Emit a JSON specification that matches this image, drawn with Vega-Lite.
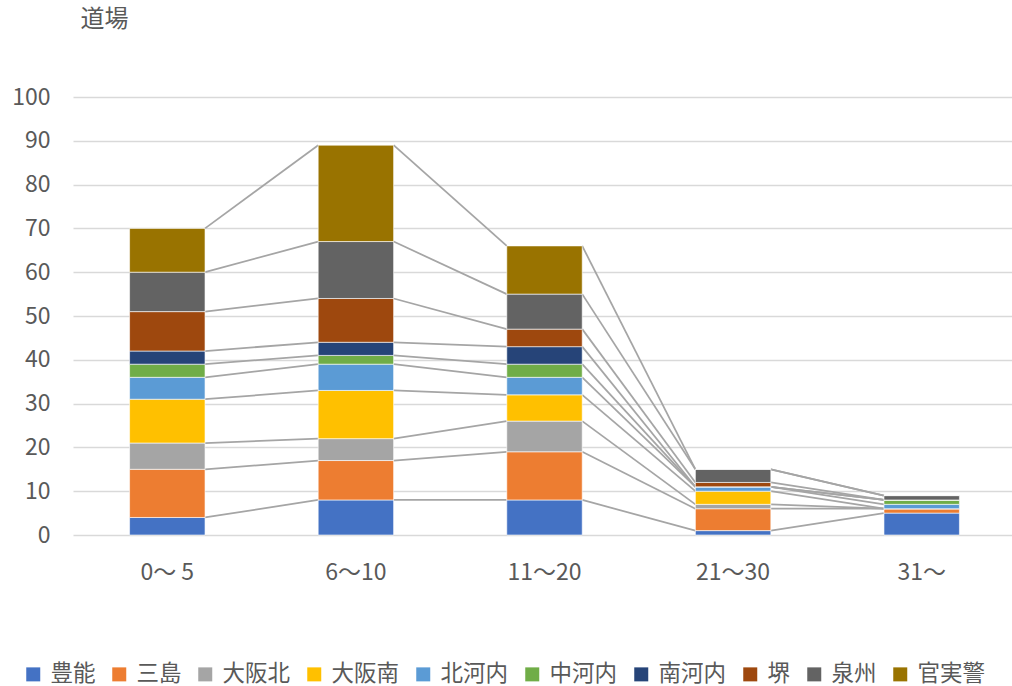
{
  "$schema": "https://vega.github.io/schema/vega-lite/v6.json",
  "width": 943,
  "height": 438,
  "autosize": {"type": "none"},
  "padding": {"left": 73, "top": 97, "right": 0, "bottom": 151},
  "background": "#ffffff",
  "config": {
    "font": "Noto Sans CJK JP",
    "view": {"stroke": null},
    "axis": {"labelColor": "#595959", "titleColor": "#595959", "labelFont": "Noto Sans CJK JP", "titleFont": "Noto Sans CJK JP"},
    "legend": {"labelColor": "#595959", "labelFont": "Noto Sans CJK JP"}
  },
  "data": {
    "values": [
      {"cat": "0～ 5", "series": "豊能", "count": 4},
      {"cat": "0～ 5", "series": "三島", "count": 11},
      {"cat": "0～ 5", "series": "大阪北", "count": 6},
      {"cat": "0～ 5", "series": "大阪南", "count": 10},
      {"cat": "0～ 5", "series": "北河内", "count": 5},
      {"cat": "0～ 5", "series": "中河内", "count": 3},
      {"cat": "0～ 5", "series": "南河内", "count": 3},
      {"cat": "0～ 5", "series": "堺", "count": 9},
      {"cat": "0～ 5", "series": "泉州", "count": 9},
      {"cat": "0～ 5", "series": "官実警", "count": 10},
      {"cat": "6～10", "series": "豊能", "count": 8},
      {"cat": "6～10", "series": "三島", "count": 9},
      {"cat": "6～10", "series": "大阪北", "count": 5},
      {"cat": "6～10", "series": "大阪南", "count": 11},
      {"cat": "6～10", "series": "北河内", "count": 6},
      {"cat": "6～10", "series": "中河内", "count": 2},
      {"cat": "6～10", "series": "南河内", "count": 3},
      {"cat": "6～10", "series": "堺", "count": 10},
      {"cat": "6～10", "series": "泉州", "count": 13},
      {"cat": "6～10", "series": "官実警", "count": 22},
      {"cat": "11～20", "series": "豊能", "count": 8},
      {"cat": "11～20", "series": "三島", "count": 11},
      {"cat": "11～20", "series": "大阪北", "count": 7},
      {"cat": "11～20", "series": "大阪南", "count": 6},
      {"cat": "11～20", "series": "北河内", "count": 4},
      {"cat": "11～20", "series": "中河内", "count": 3},
      {"cat": "11～20", "series": "南河内", "count": 4},
      {"cat": "11～20", "series": "堺", "count": 4},
      {"cat": "11～20", "series": "泉州", "count": 8},
      {"cat": "11～20", "series": "官実警", "count": 11},
      {"cat": "21～30", "series": "豊能", "count": 1},
      {"cat": "21～30", "series": "三島", "count": 5},
      {"cat": "21～30", "series": "大阪北", "count": 1},
      {"cat": "21～30", "series": "大阪南", "count": 3},
      {"cat": "21～30", "series": "北河内", "count": 1},
      {"cat": "21～30", "series": "中河内", "count": 0},
      {"cat": "21～30", "series": "南河内", "count": 0},
      {"cat": "21～30", "series": "堺", "count": 1},
      {"cat": "21～30", "series": "泉州", "count": 3},
      {"cat": "21～30", "series": "官実警", "count": 0},
      {"cat": "31～", "series": "豊能", "count": 5},
      {"cat": "31～", "series": "三島", "count": 1},
      {"cat": "31～", "series": "大阪北", "count": 0},
      {"cat": "31～", "series": "大阪南", "count": 0},
      {"cat": "31～", "series": "北河内", "count": 1},
      {"cat": "31～", "series": "中河内", "count": 1},
      {"cat": "31～", "series": "南河内", "count": 0},
      {"cat": "31～", "series": "堺", "count": 0},
      {"cat": "31～", "series": "泉州", "count": 1},
      {"cat": "31～", "series": "官実警", "count": 0}
    ]
  },
  "transform": [
    {"window": [{"op": "row_number", "as": "k"}], "groupby": ["cat"]},
    {"window": [{"op": "row_number", "as": "ci"}], "groupby": ["series"]}
  ],
  "encoding": {
    "x": {
      "field": "cat",
      "type": "nominal",
      "sort": ["0～ 5", "6～10", "11～20", "21～30", "31～"],
      "scale": {"paddingInner": 0.6, "paddingOuter": 0.3},
      "axis": {"title": null, "labelAngle": 0, "labelFontSize": 23, "labelPadding": 26, "domain": false, "ticks": false}
    }
  },
  "layer": [
    {
      "transform": [
        {"stack": "count", "groupby": ["cat"], "sort": [{"field": "k", "order": "ascending"}], "as": ["y0", "y1"]},
        {"window": [{"op": "lead", "field": "y1", "as": "ny"}, {"op": "lead", "field": "cat", "as": "ncat"}], "groupby": ["series"], "sort": [{"field": "ci", "order": "ascending"}]},
        {"filter": "isValid(datum.ncat)"}
      ],
      "mark": {"type": "rule", "color": "#a5a5a5", "strokeWidth": 1.75},
      "encoding": {
        "x": {"field": "cat", "type": "nominal", "bandPosition": 1},
        "x2": {"field": "ncat", "bandPosition": 0},
        "y": {"field": "y1", "type": "quantitative", "scale": {"domain": [0, 100]}},
        "y2": {"field": "ny"}
      }
    },
    {
      "mark": {"type": "bar", "stroke": "#ffffff", "strokeOpacity": 0.6, "strokeWidth": 1},
      "encoding": {
        "y": {
          "aggregate": "sum",
          "field": "count",
          "type": "quantitative",
          "stack": "zero",
          "scale": {"domain": [0, 100], "nice": false},
          "axis": {
            "title": "道場",
            "titleAngle": 0,
            "titleAlign": "left",
            "titleBaseline": "middle",
            "titleX": 7,
            "titleY": -78,
            "titleFontSize": 24,
            "titleFontWeight": "normal",
            "values": [0, 10, 20, 30, 40, 50, 60, 70, 80, 90, 100],
            "labelFontSize": 23,
            "labelPadding": 23,
            "domain": false,
            "ticks": false,
            "grid": true,
            "gridColor": "#d9d9d9",
            "gridWidth": 1.5
          }
        },
        "color": {
          "field": "series",
          "type": "nominal",
          "scale": {
            "domain": ["豊能", "三島", "大阪北", "大阪南", "北河内", "中河内", "南河内", "堺", "泉州", "官実警"],
            "range": ["#4472c4", "#ed7d31", "#a5a5a5", "#ffc000", "#5b9bd5", "#70ad47", "#264478", "#9e480e", "#636363", "#997300"]
          },
          "legend": {
            "title": null,
            "orient": "none",
            "direction": "horizontal",
            "columns": 10,
            "legendX": -51,
            "legendY": 566,
            "symbolType": "square",
            "symbolSize": 196,
            "symbolStrokeWidth": 0,
            "labelFontSize": 22.5,
            "labelOffset": 6,
            "columnPadding": 12
          }
        },
        "order": {"field": "k", "aggregate": "min", "sort": "ascending"}
      }
    }
  ],
  "resolve": {"scale": {"y": "shared"}}
}
